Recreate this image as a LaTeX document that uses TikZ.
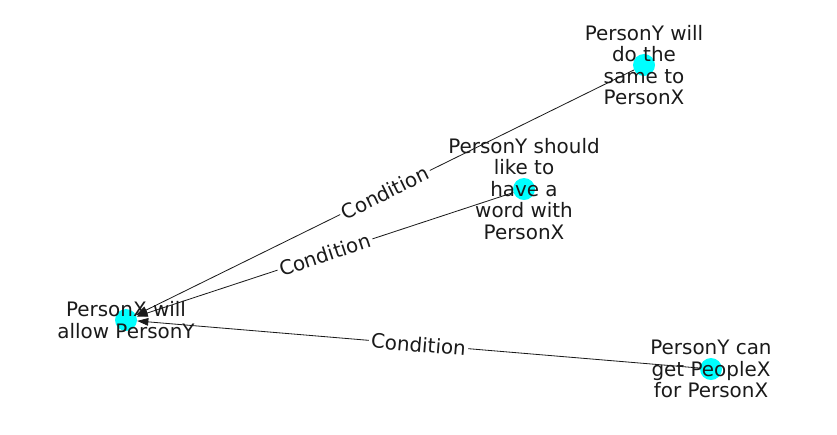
\documentclass[tikz,border=0pt]{standalone}
\usepackage{fontspec}
\setmainfont{DejaVu Sans}
\usetikzlibrary{arrows.meta}

\definecolor{eventcyan}{RGB}{0,255,255}
\definecolor{inkgray}{RGB}{26,26,26}

\tikzset{
  event/.style={circle, fill=eventcyan, draw=none, minimum size=0.66cm, inner sep=0pt},
  eventtext/.style={align=center, text=inkgray, font=\fontsize{17}{18.4}\selectfont, inner sep=0pt},
  relation/.style={-{Triangle[length=9.5pt,width=6.5pt]}, line width=0.7pt, inkgray},
  condlabel/.style={sloped, fill=white, rounded corners=2pt, text=inkgray, inner sep=2pt,
    font=\fontsize{17}{18}\selectfont}
}

\begin{document}
\begin{tikzpicture}[x=0.03cm, y=-0.03cm]
  \useasboundingbox (0,0) rectangle (837,434);

  % events
  \node[event] (allow) at (126,320) {};
  \node[event] (same) at (644,65) {};
  \node[event] (word) at (524,189) {};
  \node[event] (get) at (711,369) {};

  % relations
  \draw[relation] (same) -- node[condlabel] {Condition} (allow);
  \draw[relation] (word) -- node[condlabel] {Condition} (allow);
  \draw[relation] (get) -- node[condlabel] {Condition} (allow);

  % texts
  \node[eventtext] (allowtext) at (allow) {PersonX will\\allow PersonY};
  \node[eventtext] (sametext) at (same) {PersonY will\\do the\\same to\\PersonX};
  \node[eventtext] (wordtext) at (word) {PersonY should\\like to\\have a\\word with\\PersonX};
  \node[eventtext] (gettext) at (get) {PersonY can\\get PeopleX\\for PersonX};
\end{tikzpicture}
\end{document}
